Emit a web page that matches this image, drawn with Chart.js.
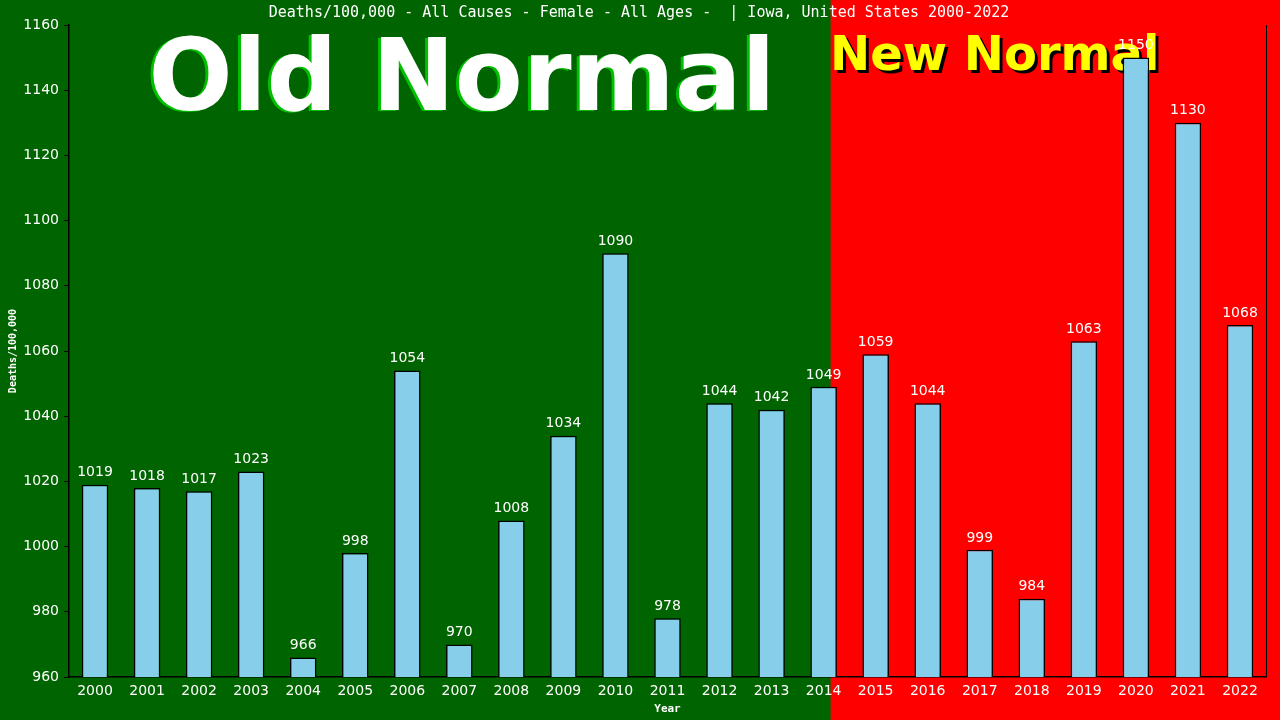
<!DOCTYPE html>
<html>
<head>
<meta charset="utf-8">
<script src="https://cdn.jsdelivr.net/npm/chart.js@4.4.1/dist/chart.umd.min.js"></script>
<style>
  html, body { margin: 0; padding: 0; background: #006400; }
  #wrap { width: 1280px; height: 720px; }
</style>
</head>
<body>
<div id="wrap"><canvas id="chart"></canvas></div>
<script>
const years = ['2000', '2001', '2002', '2003', '2004', '2005', '2006', '2007', '2008', '2009', '2010', '2011',
               '2012', '2013', '2014', '2015', '2016', '2017', '2018', '2019', '2020', '2021', '2022'];
const deaths = [1019, 1018, 1017, 1023, 966, 998, 1054, 970, 1008, 1034, 1090, 978,
                1044, 1042, 1049, 1059, 1044, 999, 984, 1063, 1150, 1130, 1068];
const yMin = 960;
const yMax = 1160;
const yStep = 20;
const titleText = 'Deaths/100,000 - All Causes - Female - All Ages -  | Iowa, United States 2000-2022';

// paints the green/red halves behind everything
const backdrop = {
    id: 'backdrop',
    beforeDraw(chart) {
        const ctx = chart.ctx;
        const x = chart.scales.x;
        const split = x.getPixelForValue(14) + 7; // just past the 2014 bar centre
        ctx.save();
        ctx.fillStyle = '#006400';
        ctx.fillRect(0, 0, split, chart.height);
        ctx.fillStyle = '#ff0000';
        ctx.fillRect(split, 0, chart.width - split, chart.height);

        ctx.textAlign = 'center';
        ctx.textBaseline = 'alphabetic';
        ctx.font = 'bold 99px "DejaVu Sans"';
        ctx.fillStyle = '#00c000';
        ctx.fillText('Old Normal', 459, 111);
        ctx.fillStyle = '#ffffff';
        ctx.fillText('Old Normal', 462, 110);

        ctx.textAlign = 'left';
        ctx.font = 'bold 48px "DejaVu Sans"';
        ctx.fillStyle = '#000000';
        ctx.fillText('New Normal', 833, 73);
        ctx.fillStyle = '#ffff00';
        ctx.fillText('New Normal', 830, 70);

        ctx.font = '15px "DejaVu Sans Mono"';
        ctx.textAlign = 'center';
        ctx.textBaseline = 'middle';
        ctx.fillStyle = '#ffffff';
        ctx.fillText(titleText, 639, 13);
        ctx.restore();
    },
    afterDraw(chart) {
        const ctx = chart.ctx;
        const a = chart.chartArea;
        ctx.save();
        ctx.strokeStyle = '#000000';
        ctx.lineWidth = 1;
        ctx.beginPath();
        ctx.moveTo(a.right + 0.5, a.top);
        ctx.lineTo(a.right + 0.5, a.bottom);
        ctx.stroke();
        ctx.restore();
    }
};

// value labels above each bar
const barLabels = {
    id: 'barLabels',
    afterDatasetsDraw(chart) {
        const ctx = chart.ctx;
        const meta = chart.getDatasetMeta(0);
        ctx.save();
        ctx.font = '14px "DejaVu Sans"';
        ctx.fillStyle = '#ffffff';
        ctx.textAlign = 'center';
        ctx.textBaseline = 'bottom';
        meta.data.forEach((bar, i) => {
            ctx.fillText(String(deaths[i]), bar.x, bar.y - 5);
        });
        ctx.restore();
    }
};

new Chart(document.getElementById('chart'), {
    type: 'bar',
    data: {
        labels: years,
        datasets: [{
            label: 'Deaths/100,000',
            data: deaths,
            backgroundColor: '#87ceeb',
            borderColor: '#000000',
            borderWidth: 1.5,
            categoryPercentage: 1.0,
            barPercentage: 0.51
        }]
    },
    plugins: [backdrop, barLabels],
    options: {
        responsive: true,
        maintainAspectRatio: false,
        animation: false,
        devicePixelRatio: 1,
        layout: { padding: { top: 25, right: 14, left: 0, bottom: 0 } },
        plugins: {
            legend: { display: false },
            tooltip: { enabled: false }
        },
        scales: {
            x: {
                grid: { display: false, drawTicks: false },
                border: { display: true, color: '#000000', width: 1.5 },
                ticks: {
                    color: '#ffffff',
                    font: { family: 'DejaVu Sans', size: 14 },
                    padding: 6,
                    maxRotation: 0,
                    autoSkip: false
                },
                title: {
                    display: true,
                    text: 'Year',
                    color: '#ffffff',
                    font: { family: 'DejaVu Sans Mono', size: 11, weight: 'bold' },
                    padding: { top: 0, bottom: 4 }
                },
                afterFit(scale) { scale.height = 43; }
            },
            y: {
                min: yMin,
                max: yMax,
                grid: {
                    drawOnChartArea: false,
                    drawTicks: true,
                    tickLength: 5,
                    color: '#000000'
                },
                border: { display: true, color: '#000000', width: 1.5 },
                ticks: {
                    stepSize: yStep,
                    color: '#ffffff',
                    font: { family: 'DejaVu Sans', size: 14 },
                    padding: 5,
                    callback: (v) => String(v)
                },
                title: {
                    display: true,
                    text: 'Deaths/100,000',
                    color: '#ffffff',
                    font: { family: 'DejaVu Sans Mono', size: 10, weight: 'bold' },
                    padding: { top: 7, bottom: 0 }
                },
                afterFit(scale) { scale.width = 69; }
            }
        }
    }
});
</script>
</body>
</html>
